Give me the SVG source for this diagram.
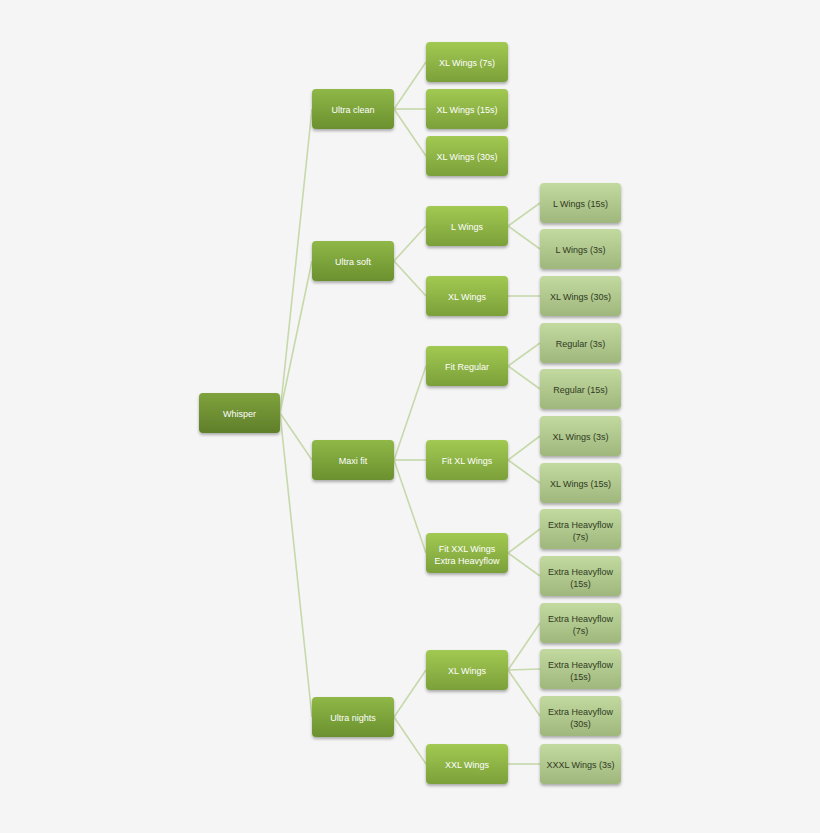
<svg xmlns="http://www.w3.org/2000/svg" width="820" height="833" viewBox="0 0 820 833">
<defs>
<linearGradient id="g0" x1="0" y1="0" x2="0" y2="1"><stop offset="0" stop-color="#7fa23c"/><stop offset="1" stop-color="#5f7f2a"/></linearGradient>
<linearGradient id="g1" x1="0" y1="0" x2="0" y2="1"><stop offset="0" stop-color="#8fb847"/><stop offset="1" stop-color="#6b902f"/></linearGradient>
<linearGradient id="g2" x1="0" y1="0" x2="0" y2="1"><stop offset="0" stop-color="#a2c952"/><stop offset="1" stop-color="#7ba03a"/></linearGradient>
<linearGradient id="g3" x1="0" y1="0" x2="0" y2="1"><stop offset="0" stop-color="#c2d9a0"/><stop offset="1" stop-color="#9fb77c"/></linearGradient>
<filter id="sh" x="-20%" y="-20%" width="140%" height="160%"><feDropShadow dx="0" dy="2" stdDeviation="1.5" flood-color="#000" flood-opacity="0.3"/></filter>
</defs>
<style>
.n rect{filter:url(#sh)}
.l0 rect{fill:url(#g0)}
.l1 rect{fill:url(#g1)}
.l2 rect{fill:url(#g2)}
.l3 rect{fill:url(#g3)}
text{font-family:"Liberation Sans",Arial,sans-serif;font-size:9px;text-anchor:middle;fill:#ffffff}
.l3 text{fill:#2f3a22}
#connectors line{stroke:#c6d9aa;stroke-width:1.6}
</style>
<rect width="820" height="833" fill="#f5f5f5"/>
<g id="connectors">
<line x1="280" y1="413" x2="312" y2="109"/>
<line x1="280" y1="413" x2="312" y2="261"/>
<line x1="280" y1="413" x2="312" y2="460"/>
<line x1="280" y1="413" x2="312" y2="717"/>
<line x1="394" y1="109" x2="426" y2="62"/>
<line x1="394" y1="109" x2="426" y2="109"/>
<line x1="394" y1="109" x2="426" y2="156"/>
<line x1="394" y1="261" x2="426" y2="226"/>
<line x1="394" y1="261" x2="426" y2="296"/>
<line x1="394" y1="460" x2="426" y2="366"/>
<line x1="394" y1="460" x2="426" y2="460"/>
<line x1="394" y1="460" x2="426" y2="553"/>
<line x1="394" y1="717" x2="426" y2="670"/>
<line x1="394" y1="717" x2="426" y2="764"/>
<line x1="508" y1="226" x2="540" y2="203"/>
<line x1="508" y1="226" x2="540" y2="249"/>
<line x1="508" y1="296" x2="540" y2="296"/>
<line x1="508" y1="366" x2="540" y2="343"/>
<line x1="508" y1="366" x2="540" y2="389"/>
<line x1="508" y1="460" x2="540" y2="436"/>
<line x1="508" y1="460" x2="540" y2="483"/>
<line x1="508" y1="553" x2="540" y2="529"/>
<line x1="508" y1="553" x2="540" y2="576"/>
<line x1="508" y1="670" x2="540" y2="623"/>
<line x1="508" y1="670" x2="540" y2="669"/>
<line x1="508" y1="670" x2="540" y2="716"/>
<line x1="508" y1="764" x2="540" y2="764"/>
</g>
<g id="whisper" class="n l0"><rect x="199" y="393" width="81" height="40" rx="4"/><text x="239.5" y="417">Whisper</text></g>
<g id="ultra-clean" class="n l1"><rect x="312" y="89" width="82" height="40" rx="4"/><text x="353" y="113">Ultra clean</text></g>
<g id="ultra-soft" class="n l1"><rect x="312" y="241" width="82" height="40" rx="4"/><text x="353" y="265">Ultra soft</text></g>
<g id="maxi-fit" class="n l1"><rect x="312" y="440" width="82" height="40" rx="4"/><text x="353" y="464">Maxi fit</text></g>
<g id="ultra-nights" class="n l1"><rect x="312" y="697" width="82" height="40" rx="4"/><text x="353" y="721">Ultra nights</text></g>
<g id="uc-xl7" class="n l2"><rect x="426" y="42" width="82" height="40" rx="4"/><text x="467" y="66">XL Wings  (7s)</text></g>
<g id="uc-xl15" class="n l2"><rect x="426" y="89" width="82" height="40" rx="4"/><text x="467" y="113">XL Wings  (15s)</text></g>
<g id="uc-xl30" class="n l2"><rect x="426" y="136" width="82" height="40" rx="4"/><text x="467" y="160">XL Wings  (30s)</text></g>
<g id="us-l" class="n l2"><rect x="426" y="206" width="82" height="40" rx="4"/><text x="467" y="230">L Wings</text></g>
<g id="us-xl" class="n l2"><rect x="426" y="276" width="82" height="40" rx="4"/><text x="467" y="300">XL Wings</text></g>
<g id="mf-reg" class="n l2"><rect x="426" y="346" width="82" height="40" rx="4"/><text x="467" y="370">Fit Regular</text></g>
<g id="mf-xl" class="n l2"><rect x="426" y="440" width="82" height="40" rx="4"/><text x="467" y="464">Fit XL  Wings</text></g>
<g id="mf-xxl" class="n l2"><rect x="426" y="533" width="82" height="40" rx="4"/><text x="467" y="552">Fit XXL  Wings</text><text x="467" y="564">Extra Heavyflow</text></g>
<g id="un-xl" class="n l2"><rect x="426" y="650" width="82" height="40" rx="4"/><text x="467" y="674">XL Wings</text></g>
<g id="un-xxl" class="n l2"><rect x="426" y="744" width="82" height="40" rx="4"/><text x="467" y="768">XXL Wings</text></g>
<g id="l15" class="n l3"><rect x="540" y="183" width="81" height="40" rx="4"/><text x="580.5" y="207">L Wings (15s)</text></g>
<g id="l3" class="n l3"><rect x="540" y="229" width="81" height="40" rx="4"/><text x="580.5" y="253">L Wings (3s)</text></g>
<g id="xl30" class="n l3"><rect x="540" y="276" width="81" height="40" rx="4"/><text x="580.5" y="300">XL Wings  (30s)</text></g>
<g id="reg3" class="n l3"><rect x="540" y="323" width="81" height="40" rx="4"/><text x="580.5" y="347">Regular  (3s)</text></g>
<g id="reg15" class="n l3"><rect x="540" y="369" width="81" height="40" rx="4"/><text x="580.5" y="393">Regular  (15s)</text></g>
<g id="xl3" class="n l3"><rect x="540" y="416" width="81" height="40" rx="4"/><text x="580.5" y="440">XL Wings  (3s)</text></g>
<g id="xl15" class="n l3"><rect x="540" y="463" width="81" height="40" rx="4"/><text x="580.5" y="487">XL Wings  (15s)</text></g>
<g id="eh7a" class="n l3"><rect x="540" y="509" width="81" height="40" rx="4"/><text x="580.5" y="528">Extra Heavyflow</text><text x="580.5" y="540">(7s)</text></g>
<g id="eh15a" class="n l3"><rect x="540" y="556" width="81" height="40" rx="4"/><text x="580.5" y="575">Extra Heavyflow</text><text x="580.5" y="587">(15s)</text></g>
<g id="eh7b" class="n l3"><rect x="540" y="603" width="81" height="40" rx="4"/><text x="580.5" y="622">Extra Heavyflow</text><text x="580.5" y="634">(7s)</text></g>
<g id="eh15b" class="n l3"><rect x="540" y="649" width="81" height="40" rx="4"/><text x="580.5" y="668">Extra Heavyflow</text><text x="580.5" y="680">(15s)</text></g>
<g id="eh30" class="n l3"><rect x="540" y="696" width="81" height="40" rx="4"/><text x="580.5" y="715">Extra Heavyflow</text><text x="580.5" y="727">(30s)</text></g>
<g id="xxxl3" class="n l3"><rect x="540" y="744" width="81" height="40" rx="4"/><text x="580.5" y="768">XXXL Wings (3s)</text></g>
</svg>
